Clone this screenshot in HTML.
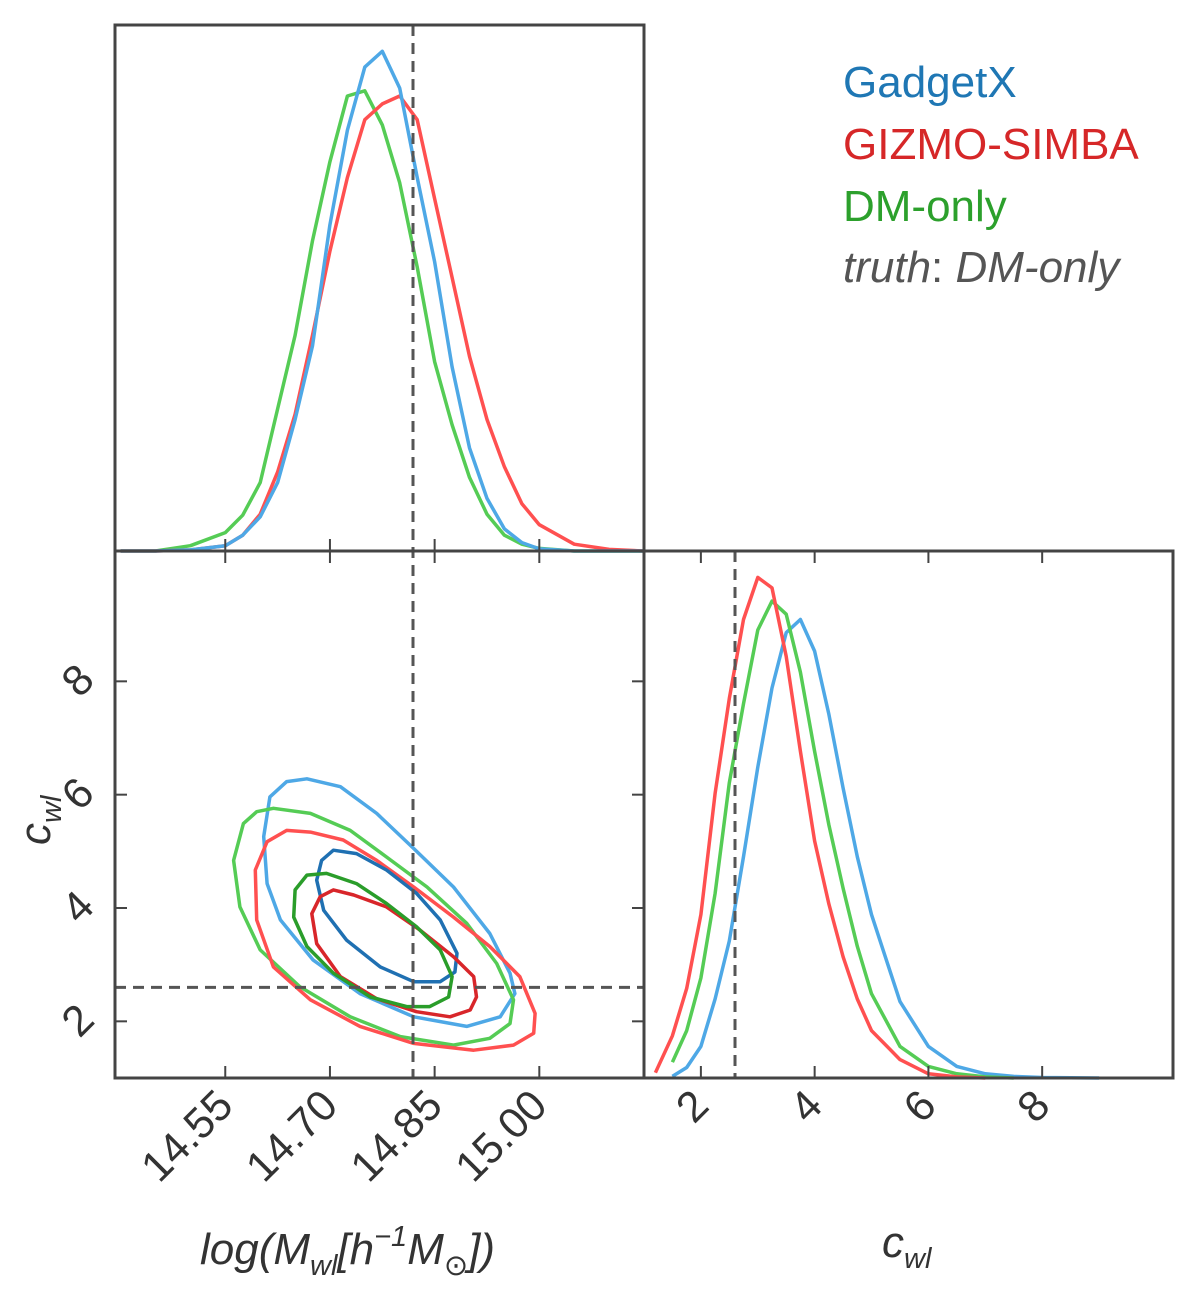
<!DOCTYPE html>
<html><head><meta charset="utf-8"><style>
html,body{margin:0;padding:0;background:#fff;}
svg{display:block;font-family:"Liberation Sans",sans-serif;}
</style></head><body>
<svg id="fig" width="1200" height="1306" viewBox="0 0 1200 1306" xmlns="http://www.w3.org/2000/svg">
<g id="marks"></g>
<g font-size="44">
<text x="843" y="97" fill="#1f77b4">GadgetX</text>
<text x="843" y="159" fill="#d62728">GIZMO-SIMBA</text>
<text x="843" y="221" fill="#2ca02c">DM-only</text>
<text x="843" y="282" fill="#555" font-style="italic">truth<tspan font-style="normal">: </tspan>DM-only</text>
</g>
<text x="200" y="1264" font-size="44" font-style="italic" fill="#333">log(M<tspan font-size="29" dy="11">wl</tspan><tspan dy="-11">[h</tspan><tspan font-size="29" dy="-18">−1</tspan><tspan dy="18">M</tspan><tspan font-size="29" dy="11" font-style="normal">⊙</tspan><tspan dy="-11">])</tspan></text>
<text x="882" y="1257" font-size="44" font-style="italic" fill="#333">c<tspan font-size="29" dy="11">wl</tspan></text>
<text transform="translate(50,845) rotate(-90)" font-size="44" font-style="italic" fill="#333">c<tspan font-size="29" dy="11">wl</tspan></text>
</svg>
<script>
// ---- data ----
const massGrid=[14.40,14.45,14.50,14.55,14.575,14.60,14.625,14.65,14.675,14.70,14.725,14.75,14.775,14.80,14.825,14.85,14.875,14.90,14.925,14.95,14.975,15.00,15.05,15.10,15.15];
const massBlue=[0,0,0.002,0.01,0.03,0.065,0.13,0.25,0.39,0.62,0.80,0.92,0.95,0.88,0.71,0.55,0.35,0.196,0.10,0.042,0.016,0.004,0,0,0];
const massRed=[0,0,0.002,0.01,0.03,0.07,0.15,0.26,0.41,0.57,0.71,0.82,0.85,0.865,0.82,0.67,0.52,0.37,0.25,0.16,0.09,0.05,0.013,0.003,0];
const massGreen=[0,0,0.01,0.035,0.068,0.13,0.27,0.41,0.59,0.74,0.865,0.875,0.81,0.70,0.54,0.36,0.24,0.14,0.07,0.03,0.013,0.005,0,0,0];
const cGrid=[1.2,1.5,1.75,2,2.25,2.5,2.75,3,3.25,3.5,3.75,4,4.25,4.5,4.75,5,5.5,6,6.5,7,7.5,8,9];
const cBlue=[null,0.003,0.02,0.06,0.15,0.26,0.42,0.59,0.74,0.845,0.87,0.81,0.69,0.55,0.42,0.31,0.145,0.06,0.022,0.008,0.003,0.001,0];
const cRed=[0.01,0.08,0.17,0.31,0.54,0.72,0.87,0.95,0.93,0.80,0.62,0.45,0.33,0.23,0.15,0.09,0.035,0.008,0.002,0,null,null,null];
const cGreen=[null,0.03,0.09,0.19,0.35,0.56,0.71,0.85,0.905,0.88,0.77,0.62,0.48,0.36,0.25,0.16,0.06,0.022,0.008,0.002,0,null,null];
const blueOuterM=[14.667,14.715,14.767,14.820,14.877,14.929,14.958,14.965,14.944,14.896,14.820,14.743,14.676,14.629,14.610,14.605,14.614,14.638];
const blueOuterC=[6.28,6.14,5.67,5.05,4.37,3.55,2.85,2.49,2.08,1.91,2.08,2.49,3.08,3.79,4.43,5.26,5.96,6.23];
const blueInnerM=[14.705,14.738,14.781,14.824,14.858,14.882,14.879,14.858,14.820,14.772,14.724,14.691,14.681,14.688];
const blueInnerC=[5.02,4.96,4.67,4.26,3.79,3.20,2.87,2.70,2.70,2.96,3.43,3.96,4.49,4.84];
const greenOuterM=[14.619,14.672,14.729,14.781,14.839,14.896,14.939,14.963,14.958,14.929,14.877,14.801,14.729,14.657,14.600,14.571,14.562,14.576,14.595];
const greenOuterC=[5.76,5.67,5.37,4.90,4.37,3.73,3.02,2.38,1.96,1.70,1.58,1.73,2.08,2.61,3.26,4.02,4.84,5.49,5.70];
const greenInnerM=[14.667,14.695,14.738,14.781,14.824,14.858,14.875,14.870,14.843,14.810,14.758,14.705,14.667,14.648,14.650];
const greenInnerC=[4.58,4.61,4.43,4.08,3.67,3.26,2.79,2.43,2.26,2.26,2.43,2.85,3.32,3.84,4.32];
const redOuterM=[14.638,14.672,14.719,14.767,14.820,14.877,14.929,14.972,14.994,14.992,14.963,14.906,14.820,14.743,14.672,14.619,14.595,14.593,14.610];
const redOuterC=[5.37,5.34,5.20,4.84,4.37,3.84,3.32,2.79,2.14,1.79,1.58,1.49,1.61,1.91,2.38,2.96,3.79,4.67,5.17];
const redInnerM=[14.705,14.734,14.781,14.829,14.877,14.906,14.910,14.901,14.872,14.824,14.767,14.715,14.681,14.674,14.686];
const redInnerC=[4.32,4.23,4.02,3.61,3.14,2.79,2.43,2.20,2.08,2.17,2.40,2.79,3.37,3.90,4.20];
const massTicks=[14.55,14.70,14.85,15.00];
const massTickLabels=["14.55","14.70","14.85","15.00"];
const cTicks=[2,4,6,8];
const cTickLabels=["2","4","6","8"];
const truthMass=14.819, truthC=2.6;
// ---- layout ----
const L=115,M=644,R=1173,T=25,MID=551,B=1078;
const mMin=14.392,mMax=15.150,cMin=1.0,cMax=10.3;
const xm=v=>L+(v-mMin)/(mMax-mMin)*(M-L);
const xc=v=>M+(v-cMin)/(cMax-cMin)*(R-M);
const yc=v=>B-(v-cMin)/(cMax-cMin)*(B-MID);
const yTop=f=>MID-f*(MID-T);
const yRight=f=>B-f*(B-MID);
const NS="http://www.w3.org/2000/svg";
const g=document.getElementById('marks');
function el(tag,attrs){const e=document.createElementNS(NS,tag);for(const k in attrs)e.setAttribute(k,attrs[k]);g.appendChild(e);return e;}
const LB="#4ea8e6",DB="#1f70b2",LR="#ff5050",DR="#d8262a",LG="#55cc55",DG="#2a9d2a";
const LW=3.5;
function line1d(xs,ys,fx,fy,col,name){
  let pts=[];for(let i=0;i<xs.length;i++){if(ys[i]===null)continue;pts.push(fx(xs[i]).toFixed(1)+","+fy(ys[i]).toFixed(1));}
  const p=el('polyline',{points:pts.join(' '),fill:'none',stroke:col,'stroke-width':LW,'stroke-linejoin':'round'});
  
  
}
function contour(ms,cs,col,name){
  let pts=[];for(let i=0;i<ms.length;i++)pts.push(xm(ms[i]).toFixed(1)+","+yc(cs[i]).toFixed(1));
  const p=el('polygon',{points:pts.join(' '),fill:'none',stroke:col,'stroke-width':LW,'stroke-linejoin':'round'});
  
  
}
line1d(massGrid,massGreen,xm,yTop,LG,'mass-hist-dm-only');
line1d(massGrid,massRed,xm,yTop,LR,'mass-hist-gizmo-simba');
line1d(massGrid,massBlue,xm,yTop,LB,'mass-hist-gadgetx');
line1d(cGrid,cBlue,xc,yRight,LB,'c-hist-gadgetx');
line1d(cGrid,cGreen,xc,yRight,LG,'c-hist-dm-only');
line1d(cGrid,cRed,xc,yRight,LR,'c-hist-gizmo-simba');
contour(blueOuterM,blueOuterC,LB,'contour-outer-gadgetx');
contour(greenOuterM,greenOuterC,LG,'contour-outer-dm-only');
contour(redOuterM,redOuterC,LR,'contour-outer-gizmo-simba');
contour(blueInnerM,blueInnerC,DB,'contour-inner-gadgetx');
contour(redInnerM,redInnerC,DR,'contour-inner-gizmo-simba');
contour(greenInnerM,greenInnerC,DG,'contour-inner-dm-only');
const dash={stroke:'#555','stroke-width':3,'stroke-dasharray':'11,7'};
let t1=el('line',Object.assign({x1:xm(truthMass),x2:xm(truthMass),y1:T,y2:B},dash));


let t2=el('line',Object.assign({x1:L,x2:M,y1:yc(truthC),y2:yc(truthC)},dash));


let t3=el('line',Object.assign({x1:xc(truthC),x2:xc(truthC),y1:MID,y2:B},dash));


const fr={fill:'none',stroke:'#444','stroke-width':3};
let f1=el('rect',Object.assign({x:L,y:T,width:M-L,height:MID-T},fr));


let f2=el('rect',Object.assign({x:L,y:MID,width:M-L,height:B-MID},fr));


let f3=el('rect',Object.assign({x:M,y:MID,width:R-M,height:B-MID},fr));


const tk={stroke:'#444','stroke-width':2};
massTicks.forEach((v,i)=>{
  const x=xm(v);
  let a=el('line',Object.assign({x1:x,x2:x,y1:MID,y2:MID-12},tk));
  let b=el('line',Object.assign({x1:x,x2:x,y1:MID,y2:MID+12},tk));
  let c=el('line',Object.assign({x1:x,x2:x,y1:B,y2:B-12},tk));
  let t=el('text',{x:x+10,y:B+30,'text-anchor':'end','font-size':43,fill:'#333',transform:`rotate(-45 ${x+10} ${B+30})`});
  
  
  t.textContent=massTickLabels[i];
});
cTicks.forEach((v,i)=>{
  const y=yc(v),x=xc(v);
  let a=el('line',Object.assign({x1:L,x2:L+12,y1:y,y2:y},tk));
  let b=el('line',Object.assign({x1:M-12,x2:M,y1:y,y2:y},tk));
  let c=el('line',Object.assign({x1:x,x2:x,y1:B,y2:B-12},tk));
  let d=el('line',Object.assign({x1:x,x2:x,y1:MID,y2:MID+12},tk));
  let ty=el('text',{x:78,y:y+15,'text-anchor':'middle','font-size':43,fill:'#333',transform:`rotate(-45 76 ${y})`});
  
  
  ty.textContent=cTickLabels[i];
  let tx=el('text',{x:x+10,y:B+30,'text-anchor':'end','font-size':43,fill:'#333',transform:`rotate(-45 ${x+10} ${B+30})`});
  
  
  tx.textContent=cTickLabels[i];
});
</script>
</body></html>
